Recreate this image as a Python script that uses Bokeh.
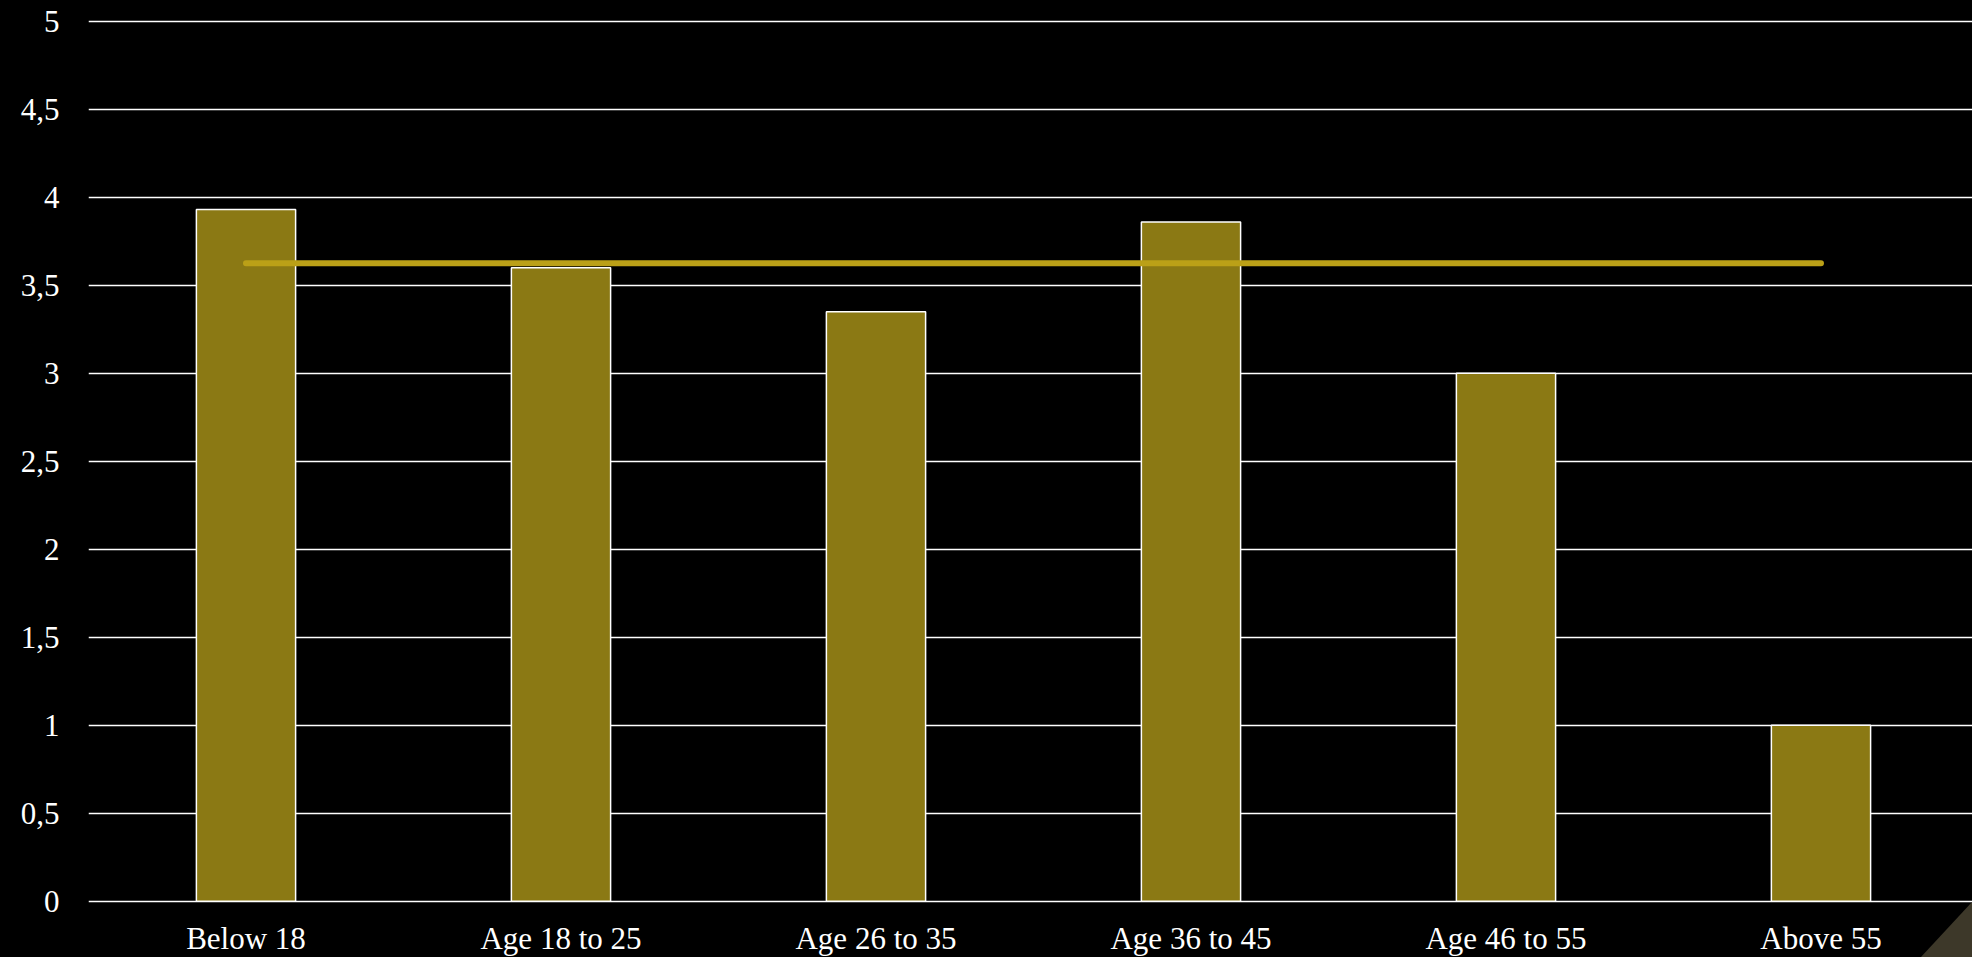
from bokeh.plotting import figure
from bokeh.models import FixedTicker, GlobalInlineStyleSheet
from bokeh.embed import file_html
from bokeh.resources import INLINE

# ---- data ----
categories = ["Below 18", "Age 18 to 25", "Age 26 to 35", "Age 36 to 45", "Age 46 to 55", "Above 55"]
values = [3.93, 3.60, 3.35, 3.86, 3.00, 1.00]
average = [3.625, 3.625, 3.625, 3.625, 3.625, 3.625]
y_ticks = [0, 0.5, 1, 1.5, 2, 2.5, 3, 3.5, 4, 4.5, 5]
y_tick_labels = ["0", "0,5", "1", "1,5", "2", "2,5", "3", "3,5", "4", "4,5", "5"]

x = list(range(len(categories)))

FONT = "Liberation Serif"
FSIZE = "31px"

X_START, X_END = -0.5, 5.481
Y_START, Y_END = -0.319, 5.01

p = figure(
    width=1972, height=957,
    x_range=(X_START, X_END), y_range=(Y_START, Y_END),
    output_backend="svg", toolbar_location=None,
    min_border_left=88, min_border_right=0, min_border_top=19, min_border_bottom=0,
    background_fill_color="black", border_fill_color="black",
    outline_line_color=None,
)
p.stylesheets = [GlobalInlineStyleSheet(css="body{background:#000000;}")]

# decorative corner triangle (slide ornament)
p.patch([X_END - 0.165, X_END, X_END], [Y_START, 0, Y_START],
        fill_color="#3D3829", line_color=None)

p.vbar(x=x, top=values, width=0.315, fill_color="#8B7914", line_color="white", line_width=1.5)
p.line(x, average, line_color="#BBA017", line_width=6, line_cap="round")

# grid
p.xgrid.visible = False
p.ygrid.ticker = FixedTicker(ticks=y_ticks)
p.ygrid.grid_line_color = "white"
p.ygrid.grid_line_width = 1.6

# y axis
ya = p.yaxis[0]
ya.ticker = FixedTicker(ticks=y_ticks)
ya.major_label_overrides = dict(zip(y_ticks, y_tick_labels))
ya.axis_line_color = None
ya.major_tick_line_color = None
ya.minor_tick_line_color = None
ya.major_tick_out = 0
ya.major_tick_in = 0
ya.major_label_standoff = 29
ya.major_label_text_font = FONT
ya.major_label_text_font_size = FSIZE
ya.major_label_text_color = "white"

# x axis, fixed at y = 0
xa = p.xaxis[0]
xa.fixed_location = 0
xa.ticker = FixedTicker(ticks=x)
xa.major_label_overrides = dict(zip(x, categories))
xa.axis_line_color = None
xa.major_tick_line_color = None
xa.minor_tick_line_color = None
xa.major_tick_out = 0
xa.major_tick_in = 0
xa.major_label_standoff = 20
xa.major_label_text_font = FONT
xa.major_label_text_font_size = FSIZE
xa.major_label_text_color = "white"

open("out.html", "w").write(file_html(p, INLINE))
